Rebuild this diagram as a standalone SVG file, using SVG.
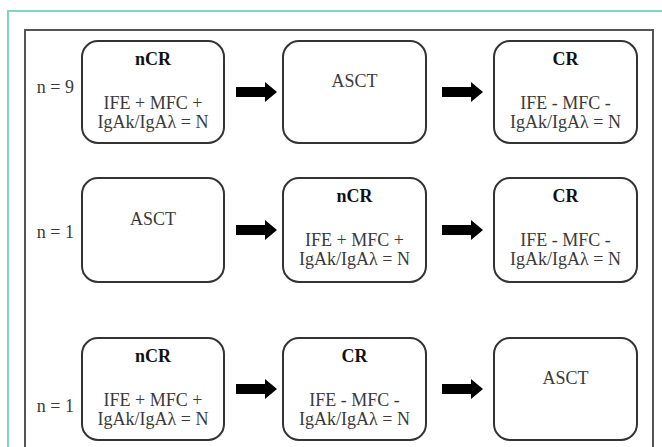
<svg xmlns="http://www.w3.org/2000/svg" width="662" height="447" viewBox="0 0 662 447">
<style>
.box{fill:#fff;stroke:#333;stroke-width:2}
.t{font-family:"Liberation Serif","Times New Roman",serif;font-size:18px;fill:#3a3a3a;text-anchor:middle}
.b{font-weight:bold;fill:#111;font-size:18px}
.n{font-family:"Liberation Serif","Times New Roman",serif;font-size:18px;fill:#3a3a3a;text-anchor:end}
.arr{fill:#000}
</style>
<defs>
<path id="arrow" d="M0,-5 H29 V-10 L41,0 L29,10 V5 H0 Z"/>
</defs>
<rect x="0" y="0" width="662" height="447" fill="#fff"/>
<rect x="8" y="11" width="700" height="500" fill="none" stroke="#7fd8c6" stroke-width="2"/>
<rect x="25" y="30" width="628" height="480" fill="none" stroke="#555" stroke-width="2"/>

<g id="row1-label"><text class="n" x="74" y="93">n = 9</text></g>
<g id="r1-ncr"><rect class="box" x="82" y="41" width="142" height="102" rx="16"/>
<text class="t b" x="153" y="65">nCR</text>
<text class="t" x="153" y="109">IFE + MFC +</text>
<text class="t" x="153" y="128">IgAk/IgAλ  = N</text></g>
<g id="r1-asct"><rect class="box" x="283" y="41" width="143" height="102" rx="16"/>
<text class="t" x="354.5" y="87">ASCT</text></g>
<g id="r1-cr"><rect class="box" x="494" y="41" width="143" height="102" rx="16"/>
<text class="t b" x="565.5" y="65">CR</text>
<text class="t" x="565.5" y="109">IFE - MFC -</text>
<text class="t" x="565.5" y="128">IgAk/IgAλ = N</text></g>

<g id="row2-label"><text class="n" x="74" y="238">n = 1</text></g>
<g id="r2-asct"><rect class="box" x="82" y="178" width="142" height="104" rx="16"/>
<text class="t" x="153" y="225">ASCT</text></g>
<g id="r2-ncr"><rect class="box" x="283" y="178" width="143" height="104" rx="16"/>
<text class="t b" x="354.5" y="202">nCR</text>
<text class="t" x="354.5" y="246">IFE + MFC +</text>
<text class="t" x="354.5" y="265">IgAk/IgAλ = N</text></g>
<g id="r2-cr"><rect class="box" x="494" y="178" width="143" height="104" rx="16"/>
<text class="t b" x="565.5" y="202">CR</text>
<text class="t" x="565.5" y="246">IFE - MFC -</text>
<text class="t" x="565.5" y="265">IgAk/IgAλ = N</text></g>

<g id="row3-label"><text class="n" x="74" y="412">n = 1</text></g>
<g id="r3-ncr"><rect class="box" x="82" y="338" width="142" height="102" rx="16"/>
<text class="t b" x="153" y="362">nCR</text>
<text class="t" x="153" y="406">IFE + MFC +</text>
<text class="t" x="153" y="425">IgAk/IgAλ = N</text></g>
<g id="r3-cr"><rect class="box" x="283" y="338" width="143" height="102" rx="16"/>
<text class="t b" x="354.5" y="362">CR</text>
<text class="t" x="354.5" y="406">IFE - MFC -</text>
<text class="t" x="354.5" y="425">IgAk/IgAλ = N</text></g>
<g id="r3-asct"><rect class="box" x="494" y="338" width="143" height="102" rx="16"/>
<text class="t" x="565.5" y="384">ASCT</text></g>

<g id="connectors" class="arr">
<use href="#arrow" x="236" y="92"/>
<use href="#arrow" x="442" y="92"/>
<use href="#arrow" x="236" y="230"/>
<use href="#arrow" x="442" y="230"/>
<use href="#arrow" x="236" y="389"/>
<use href="#arrow" x="442" y="389"/>
</g>
</svg>
